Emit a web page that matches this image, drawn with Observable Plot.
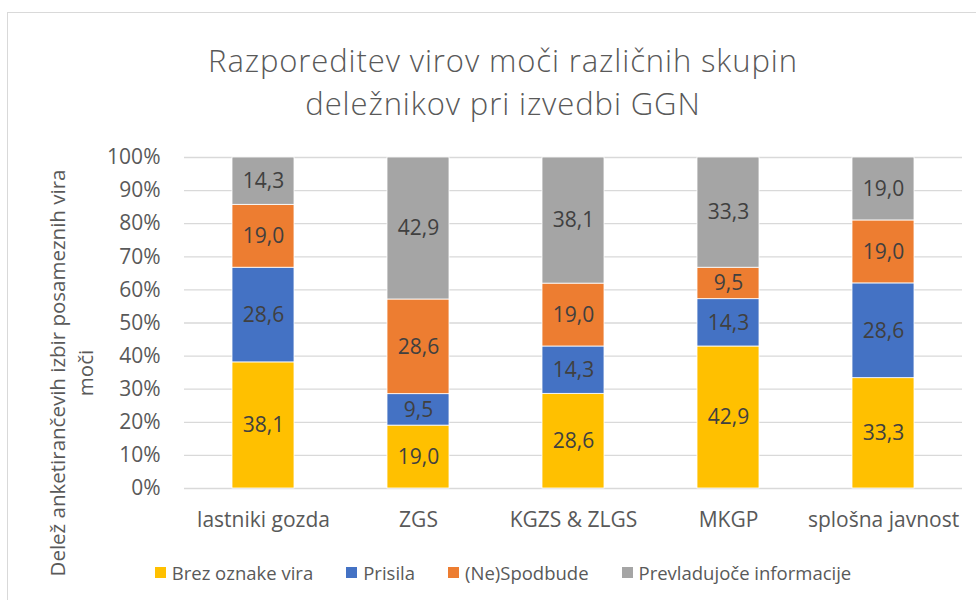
<!DOCTYPE html>
<html>
<head>
<meta charset="utf-8">
<script src="https://cdn.jsdelivr.net/npm/d3@7"></script>
<script src="https://cdn.jsdelivr.net/npm/@observablehq/plot@0.6"></script>
<style>
  html, body { margin: 0; padding: 0; background: #fff; overflow: hidden; }
  #wrap { position: relative; width: 976px; height: 600px; font-family: "Open Sans", sans-serif; color: #595959; }
  #frame { position: absolute; left: 7px; top: 12px; width: 1000px; height: 640px; border: 1.5px solid #d9d9d9; box-sizing: border-box; }
  .tline { position: absolute; left: 7px; width: 992px; height: 43px; text-align: center; font-size: 31px; font-weight: 300; letter-spacing: 0.9px; line-height: 43px; color: #595959; white-space: nowrap; }
  #t1 { top: 39px; }
  #t2 { top: 82px; }
  #ytitle { position: absolute; width: 460px; height: 56px; left: -159px; top: 345px; transform: rotate(-90deg); transform-origin: 50% 50%; text-align: center; font-size: 20.5px; line-height: 28px; color: #595959; }
  #chart { position: absolute; left: 0; top: 130px; }
  #legend { position: absolute; left: 7px; width: 992px; top: 560px; height: 24px; display: flex; justify-content: center; align-items: center; gap: 33px; font-size: 18.5px; color: #595959; }
  .item { display: flex; align-items: center; }
  .sw { width: 11px; height: 11px; margin-right: 6px; }
</style>
</head>
<body>
<div id="wrap">
  <div id="frame"></div>
  <div class="tline" id="t1">Razporeditev virov moči različnih skupin</div>
  <div class="tline" id="t2">deležnikov pri izvedbi GGN</div>
  <div id="ytitle">Delež anketirančevih izbir posameznih vira<br>moči</div>
  <div id="chart"></div>
  <div id="legend"></div>
</div>
<script>
const categories = ["lastniki gozda", "ZGS", "KGZS & ZLGS", "MKGP", "splošna javnost"];
const seriesNames = ["Brez oznake vira", "Prisila", "(Ne)Spodbude", "Prevladujoče informacije"];
const seriesColors = ["#FFC000", "#4472C4", "#ED7D31", "#A5A5A5"];
const brezOznake = [38.1, 19.0, 28.6, 42.9, 33.3];
const prisila = [28.6, 9.5, 14.3, 14.3, 28.6];
const spodbude = [19.0, 28.6, 19.0, 9.5, 19.0];
const informacije = [14.3, 42.9, 38.1, 33.3, 19.0];
const yTicks = [0, 0.1, 0.2, 0.3, 0.4, 0.5, 0.6, 0.7, 0.8, 0.9, 1.0];

const seriesValues = [brezOznake, prisila, spodbude, informacije];
const data = [];
seriesNames.forEach((s, i) => {
  categories.forEach((c, j) => {
    data.push({cat: c, series: s, value: seriesValues[i][j]});
  });
});

const fmt = v => v.toFixed(1).replace(".", ",");

const chart = Plot.plot({
  width: 976,
  height: 420,
  marginTop: 27,
  marginBottom: 62,
  marginLeft: 184,
  marginRight: 14,
  style: {fontFamily: "Open Sans, sans-serif", background: "transparent"},
  x: {domain: categories, paddingInner: 0.6, paddingOuter: 0.3, label: null},
  y: {domain: [0, 1], label: null},
  color: {domain: seriesNames, range: seriesColors},
  marks: [
    Plot.gridY(yTicks, {stroke: "#d9d9d9", strokeOpacity: 1, strokeWidth: 1.3}),
    Plot.barY(data, Plot.stackY({x: "cat", y: "value", z: "series", fill: "series", offset: "normalize", stroke: "#ffffff", strokeWidth: 0.8})),
    Plot.text(data, Plot.stackY({x: "cat", y: "value", z: "series", offset: "normalize", text: d => fmt(d.value), fill: "#404040", fontSize: 21})),
    Plot.axisY({ticks: yTicks, tickFormat: d => Math.round(d * 100) + "%", tickSize: 0, tickPadding: 24, fontSize: 21, fill: "#595959", label: null}),
    Plot.axisX({tickSize: 0, tickPadding: 24, fontSize: 21, fill: "#595959", label: null})
  ]
});
document.getElementById("chart").appendChild(chart);

const legend = document.getElementById("legend");
seriesNames.forEach((s, i) => {
  const item = document.createElement("div");
  item.className = "item";
  const sw = document.createElement("span");
  sw.className = "sw";
  sw.style.background = seriesColors[i];
  const t = document.createElement("span");
  t.textContent = s;
  item.appendChild(sw);
  item.appendChild(t);
  legend.appendChild(item);
});
</script>
</body>
</html>
